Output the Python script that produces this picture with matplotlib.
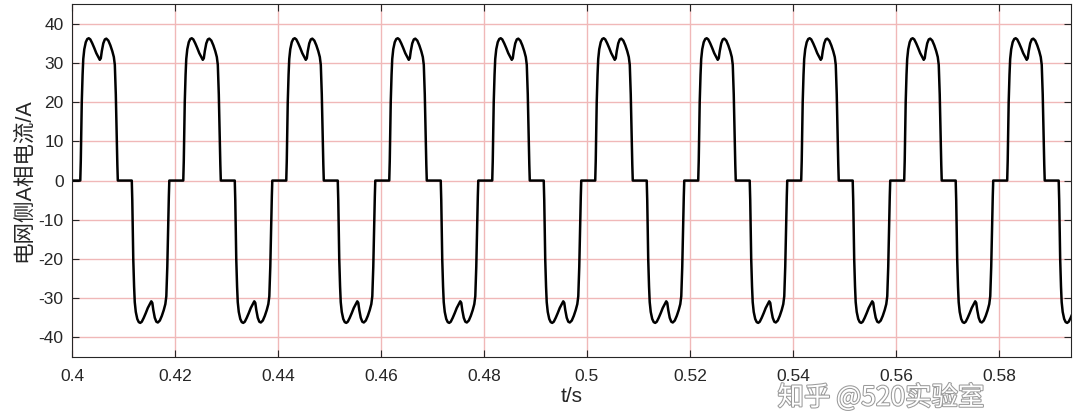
import matplotlib.pyplot as plt
import matplotlib.patheffects as pe
import numpy as np

plt.rcParams['font.family'] = ['Liberation Sans', 'Noto Sans CJK SC', 'DejaVu Sans']
plt.rcParams['axes.unicode_minus'] = False

# shape of one positive current pulse (ms after pulse start, A)
pulse_ms = [0.0, 0.1, 0.19, 0.29, 0.45, 0.58, 0.78, 1.07, 1.36, 1.65, 1.95, 2.33,
            2.72, 3.11, 3.5, 3.79, 3.99, 4.18, 4.47, 4.77, 5.06, 5.45, 5.84, 6.22,
            6.52, 6.71, 6.9, 7.06, 7.2, 7.29]
pulse_a = [0.0, 5.0, 12.0, 20.0, 27.0, 31.0, 33.5, 35.3, 36.1, 36.3, 36.0, 35.0,
           33.8, 32.5, 31.5, 30.8, 31.2, 33.0, 35.0, 36.0, 36.2, 35.7, 34.5, 33.0,
           31.5, 29.5, 22.0, 12.0, 4.0, 0.0]

# start times of the positive / negative pulses (s)
pos_start = [0.4016, 0.4216, 0.4416, 0.4616, 0.4816, 0.5016, 0.5216, 0.5416, 0.5616, 0.5816]
neg_start = [0.4116, 0.4316, 0.4516, 0.4716, 0.4916, 0.5116, 0.5316, 0.5516, 0.5716, 0.5916]

xticks = [0.4, 0.42, 0.44, 0.46, 0.48, 0.5, 0.52, 0.54, 0.56, 0.58]
xticklabels = ['0.4', '0.42', '0.44', '0.46', '0.48', '0.5', '0.52', '0.54', '0.56', '0.58']
yticks = [-40, -30, -20, -10, 0, 10, 20, 30, 40]

# build the trace: zero between pulses
t = [0.4]
i = [0.0]
starts = sorted([(s, 1) for s in pos_start] + [(s, -1) for s in neg_start])
for s, sign in starts:
    for dt, a in zip(pulse_ms, pulse_a):
        t.append(s + dt / 1000.0)
        i.append(sign * a)
t = np.array(t)
i = np.array(i)

fig = plt.figure(figsize=(10.8, 4.13), dpi=100)
ax = fig.add_axes([0.0667, 0.1356, 0.925, 0.8544])

ax.grid(True, color='#f0b8b8', linewidth=1.0)
ax.set_axisbelow(True)
ax.plot(t, i, color='black', linewidth=1.8)

ax.set_xlim(0.4, 0.594)
ax.set_ylim(-45, 45)
ax.set_xticks(xticks)
ax.set_xticklabels(xticklabels)
ax.set_yticks(yticks)
ax.tick_params(direction='in', top=True, right=True, length=5, width=0.8,
               labelsize=12.5, colors='#262626')
ax.tick_params(axis='x', pad=9)
ax.tick_params(axis='y', pad=6)
for sp in ax.spines.values():
    sp.set_color('#262626')
    sp.set_linewidth(0.8)

ax.set_xlabel('t/s', fontsize=15, color='#262626', labelpad=2)
ax.set_ylabel('电网侧A相电流/A', fontsize=15.5, color='#262626', labelpad=3)

# watermark, kept under the tick labels
fig.text(0.72, 0.004, '知乎 @520实验室', fontsize=19, color='white', va='bottom',
         family=['Noto Sans CJK SC', 'DejaVu Sans'],
         path_effects=[pe.withStroke(linewidth=1.5, foreground='#9a9a9a')])

fig.savefig('out.png', dpi=100)
